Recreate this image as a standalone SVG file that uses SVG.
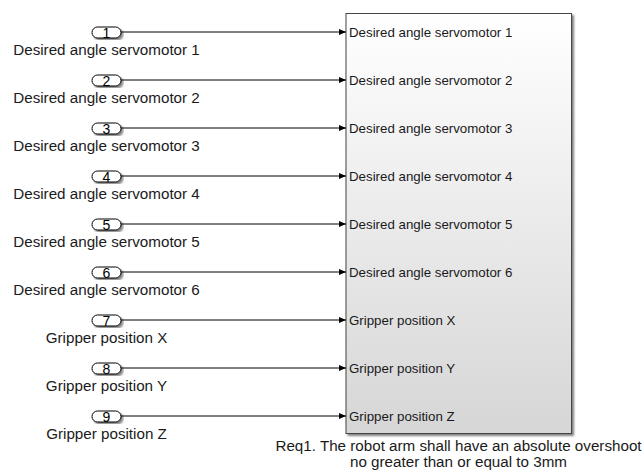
<svg xmlns="http://www.w3.org/2000/svg" width="644" height="470" viewBox="0 0 644 470">
<defs>
<linearGradient id="bg" x1="0" y1="0" x2="0" y2="1">
<stop offset="0" stop-color="#ffffff"/>
<stop offset="1" stop-color="#d6d6d6"/>
</linearGradient>
<marker id="arr" markerWidth="7" markerHeight="6" refX="7" refY="3" orient="auto" markerUnits="userSpaceOnUse">
<path d="M0,0 L7,3 L0,6 Z" fill="#000"/>
</marker>
<filter id="sh" x="-5%" y="-5%" width="115%" height="115%">
<feGaussianBlur in="SourceAlpha" stdDeviation="1"/>
<feOffset dx="2" dy="2"/>
<feComponentTransfer><feFuncA type="linear" slope="0.5"/></feComponentTransfer>
<feMerge><feMergeNode/><feMergeNode in="SourceGraphic"/></feMerge>
</filter>
</defs>
<style>
.lbl{font-family:"Liberation Sans",Arial,sans-serif;font-size:15.2px;fill:#1a1a1a;text-anchor:middle}
.num{font-family:"Liberation Sans",Arial,sans-serif;font-size:14px;fill:#000;text-anchor:middle}
.port{font-family:"Liberation Sans",Arial,sans-serif;font-size:13.3px;fill:#1a1a1a}
.oval{fill:#fff;stroke:#000;stroke-width:1}
.wire{stroke:#000;stroke-width:1;fill:none;marker-end:url(#arr)}
</style>
<rect width="644" height="470" fill="#fff"/>
<g id="block">
<rect x="346" y="13.5" width="225.5" height="420" fill="url(#bg)" stroke="#444" stroke-width="1" filter="url(#sh)"/>
<text class="port" x="349" y="37">Desired angle servomotor 1</text>
<text class="port" x="349" y="85">Desired angle servomotor 2</text>
<text class="port" x="349" y="133">Desired angle servomotor 3</text>
<text class="port" x="349" y="181">Desired angle servomotor 4</text>
<text class="port" x="349" y="229">Desired angle servomotor 5</text>
<text class="port" x="349" y="277">Desired angle servomotor 6</text>
<text class="port" x="349" y="325">Gripper position X</text>
<text class="port" x="349" y="373">Gripper position Y</text>
<text class="port" x="349" y="421">Gripper position Z</text>
<text class="lbl" x="458.5" y="451">Req1. The robot arm shall have an absolute overshoot</text>
<text class="lbl" x="458.5" y="467">no greater than or equal to 3mm</text>
</g>
<g id="in1"><rect class="oval" x="92" y="27" width="29" height="11" rx="5.5" filter="url(#sh)"/><text class="num" x="106.5" y="37.5">1</text><text class="lbl" x="106.5" y="54.5">Desired angle servomotor 1</text></g>
<g id="in2"><rect class="oval" x="92" y="75" width="29" height="11" rx="5.5" filter="url(#sh)"/><text class="num" x="106.5" y="85.5">2</text><text class="lbl" x="106.5" y="102.5">Desired angle servomotor 2</text></g>
<g id="in3"><rect class="oval" x="92" y="123" width="29" height="11" rx="5.5" filter="url(#sh)"/><text class="num" x="106.5" y="133.5">3</text><text class="lbl" x="106.5" y="150.5">Desired angle servomotor 3</text></g>
<g id="in4"><rect class="oval" x="92" y="171" width="29" height="11" rx="5.5" filter="url(#sh)"/><text class="num" x="106.5" y="181.5">4</text><text class="lbl" x="106.5" y="198.5">Desired angle servomotor 4</text></g>
<g id="in5"><rect class="oval" x="92" y="219" width="29" height="11" rx="5.5" filter="url(#sh)"/><text class="num" x="106.5" y="229.5">5</text><text class="lbl" x="106.5" y="246.5">Desired angle servomotor 5</text></g>
<g id="in6"><rect class="oval" x="92" y="267" width="29" height="11" rx="5.5" filter="url(#sh)"/><text class="num" x="106.5" y="277.5">6</text><text class="lbl" x="106.5" y="294.5">Desired angle servomotor 6</text></g>
<g id="in7"><rect class="oval" x="92" y="315" width="29" height="11" rx="5.5" filter="url(#sh)"/><text class="num" x="106.5" y="325.5">7</text><text class="lbl" x="106.5" y="342.5">Gripper position X</text></g>
<g id="in8"><rect class="oval" x="92" y="363" width="29" height="11" rx="5.5" filter="url(#sh)"/><text class="num" x="106.5" y="373.5">8</text><text class="lbl" x="106.5" y="390.5">Gripper position Y</text></g>
<g id="in9"><rect class="oval" x="92" y="411" width="29" height="11" rx="5.5" filter="url(#sh)"/><text class="num" x="106.5" y="421.5">9</text><text class="lbl" x="106.5" y="438.5">Gripper position Z</text></g>
<g id="connectors">
<line class="wire" x1="121" y1="32" x2="346" y2="32"/>
<line class="wire" x1="121" y1="80" x2="346" y2="80"/>
<line class="wire" x1="121" y1="128" x2="346" y2="128"/>
<line class="wire" x1="121" y1="176" x2="346" y2="176"/>
<line class="wire" x1="121" y1="224" x2="346" y2="224"/>
<line class="wire" x1="121" y1="272" x2="346" y2="272"/>
<line class="wire" x1="121" y1="320" x2="346" y2="320"/>
<line class="wire" x1="121" y1="368" x2="346" y2="368"/>
<line class="wire" x1="121" y1="416" x2="346" y2="416"/>
</g>
</svg>
